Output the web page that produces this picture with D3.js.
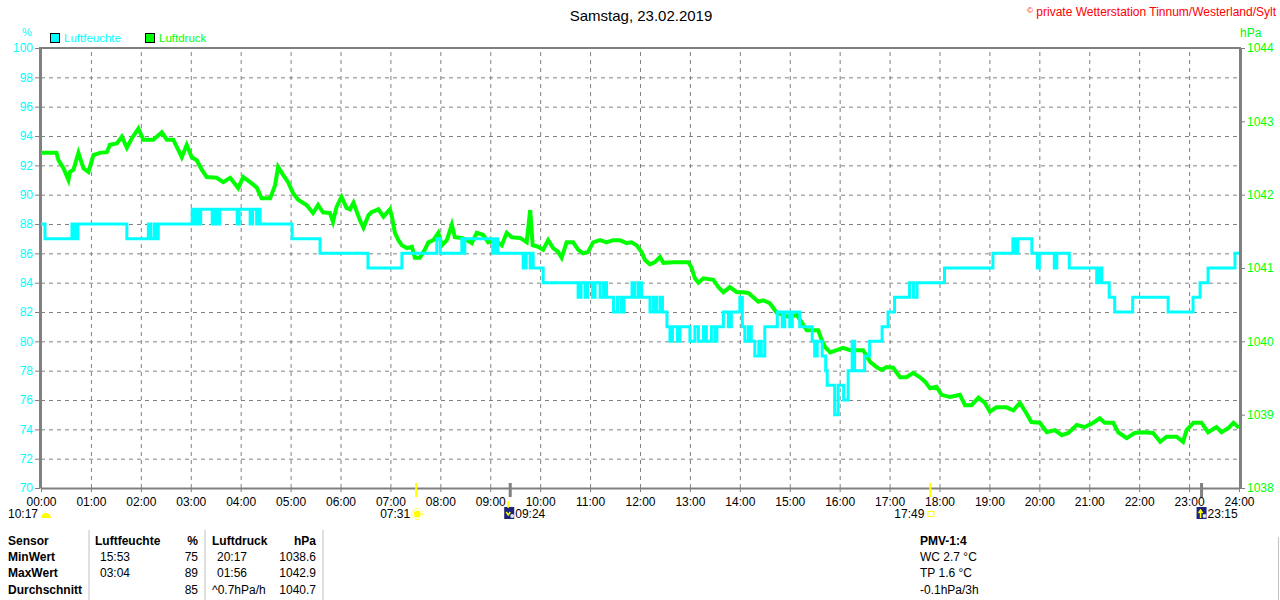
<!DOCTYPE html>
<html>
<head>
<meta charset="utf-8">
<script src="https://cdn.jsdelivr.net/npm/d3@7"></script>
<style>
  body { margin: 0; background: #fff; }
  svg { display: block; font-family: "Liberation Sans", Arial, sans-serif; }
</style>
</head>
<body>
<div id="chart"></div>
<script>
// Achsenwerte
const humTicks = [70, 72, 74, 76, 78, 80, 82, 84, 86, 88, 90, 92, 94, 96, 98, 100];
const presTicks = [1038, 1039, 1040, 1041, 1042, 1043, 1044];
const hourTicks = d3.range(0, 25);

// Luftfeuchte in % (Stufen: [Stunde, Wert])
const luftfeuchte = [
  [0, 88], [0.08, 87], [0.62, 88], [0.65, 87], [0.68, 88], [0.71, 87], [0.74, 88],
  [1.72, 87], [2.15, 88], [2.2, 87], [2.27, 88], [2.3, 87], [2.35, 88],
  [3.03, 89], [3.08, 88], [3.12, 89], [3.17, 88], [3.2, 89], [3.43, 88], [3.48, 89], [3.53, 88], [3.58, 89],
  [3.93, 88], [3.97, 89], [4.19, 88], [4.24, 89], [4.32, 88], [4.36, 89], [4.39, 88],
  [5.03, 87], [5.59, 86], [6.55, 85], [7.23, 86], [7.93, 87], [8.0, 86],
  [8.43, 87], [8.46, 86], [8.49, 87], [9.05, 86], [9.1, 87], [9.15, 86],
  [9.66, 85], [9.72, 86], [9.8, 85], [9.83, 86], [9.86, 85], [10.06, 84],
  [10.76, 83], [10.82, 84], [10.9, 83], [10.95, 84], [11.05, 83], [11.1, 84], [11.2, 83], [11.27, 84], [11.33, 83],
  [11.47, 82], [11.55, 83], [11.62, 82], [11.68, 83], [11.84, 84], [11.9, 83], [11.97, 84], [12.03, 83],
  [12.2, 82], [12.27, 83], [12.33, 82], [12.4, 83], [12.45, 82],
  [12.54, 81], [12.6, 80], [12.65, 81], [12.75, 80], [12.8, 81],
  [13.0, 80], [13.1, 81], [13.17, 80], [13.27, 81], [13.33, 80], [13.43, 81], [13.5, 80], [13.54, 81],
  [13.67, 82], [13.77, 81], [13.83, 82], [14.0, 83], [14.05, 81], [14.1, 80], [14.17, 81], [14.23, 80],
  [14.3, 79], [14.38, 80], [14.43, 79], [14.5, 81], [14.75, 82], [14.85, 81], [14.9, 82], [15.0, 81], [15.05, 82],
  [15.2, 81], [15.45, 80], [15.5, 79], [15.55, 80], [15.65, 79], [15.72, 78], [15.75, 77],
  [15.9, 75], [15.97, 77], [16.08, 76], [16.17, 78], [16.25, 80], [16.3, 78], [16.5, 79], [16.6, 80],
  [16.85, 81], [16.97, 82], [17.1, 83], [17.4, 84], [17.48, 83], [17.55, 84], [18.1, 85],
  [19.07, 86], [19.47, 87], [19.52, 86], [19.57, 87], [19.85, 86], [19.96, 85], [20.0, 86],
  [20.3, 85], [20.35, 86], [20.6, 85], [21.15, 84], [21.2, 85], [21.25, 84], [21.4, 83], [21.51, 82],
  [21.87, 83], [22.58, 82], [23.08, 83], [23.22, 84], [23.38, 85], [23.92, 86], [24, 86]
];

// Luftdruck in hPa ([Stunde, Wert])
const luftdruck = [
  [0, 1042.57], [0.11, 1042.57], [0.31, 1042.57], [0.35, 1042.47], [0.45, 1042.36], [0.55, 1042.20],
  [0.58, 1042.31], [0.65, 1042.34], [0.75, 1042.57], [0.85, 1042.36], [0.95, 1042.31], [1.05, 1042.54],
  [1.18, 1042.57], [1.32, 1042.58], [1.38, 1042.68], [1.52, 1042.70], [1.62, 1042.79], [1.72, 1042.64],
  [1.82, 1042.77], [1.95, 1042.90], [2.05, 1042.75], [2.25, 1042.75], [2.42, 1042.85], [2.52, 1042.75],
  [2.65, 1042.75], [2.75, 1042.61], [2.82, 1042.51], [2.92, 1042.68], [3.02, 1042.51], [3.12, 1042.47],
  [3.22, 1042.34], [3.32, 1042.24], [3.52, 1042.23], [3.65, 1042.17], [3.79, 1042.23], [3.95, 1042.09],
  [4.05, 1042.24], [4.19, 1042.17], [4.32, 1042.10], [4.42, 1041.95], [4.59, 1041.95], [4.69, 1042.13],
  [4.75, 1042.38], [4.85, 1042.27], [4.95, 1042.17], [5.05, 1042.02], [5.15, 1041.93], [5.32, 1041.86],
  [5.45, 1041.75], [5.55, 1041.86], [5.65, 1041.76], [5.79, 1041.75], [5.85, 1041.63], [5.92, 1041.83],
  [6.02, 1041.97], [6.12, 1041.82], [6.19, 1041.80], [6.26, 1041.89], [6.39, 1041.65], [6.46, 1041.55],
  [6.56, 1041.72], [6.62, 1041.76], [6.76, 1041.80], [6.86, 1041.70], [6.99, 1041.80], [7.03, 1041.70],
  [7.09, 1041.48], [7.16, 1041.38], [7.23, 1041.31], [7.33, 1041.27], [7.43, 1041.29], [7.49, 1041.14],
  [7.59, 1041.14], [7.69, 1041.25], [7.76, 1041.35], [7.86, 1041.38], [7.96, 1041.48], [8.03, 1041.31],
  [8.13, 1041.38], [8.23, 1041.59], [8.29, 1041.42], [8.43, 1041.41], [8.53, 1041.38], [8.63, 1041.34],
  [8.73, 1041.48], [8.86, 1041.45], [8.96, 1041.35], [9.09, 1041.38], [9.23, 1041.31], [9.33, 1041.48],
  [9.43, 1041.42], [9.60, 1041.41], [9.73, 1041.35], [9.80, 1041.79], [9.85, 1041.31], [9.96, 1041.29],
  [10.06, 1041.25], [10.16, 1041.38], [10.26, 1041.27], [10.36, 1041.22], [10.43, 1041.14], [10.53, 1041.35],
  [10.66, 1041.35], [10.76, 1041.25], [10.86, 1041.20], [10.96, 1041.22], [11.06, 1041.35], [11.20, 1041.38],
  [11.33, 1041.35], [11.46, 1041.38], [11.60, 1041.38], [11.73, 1041.34], [11.83, 1041.35], [11.93, 1041.31],
  [12.03, 1041.22], [12.10, 1041.11], [12.20, 1041.05], [12.30, 1041.08], [12.40, 1041.15], [12.47, 1041.07],
  [12.67, 1041.08], [12.87, 1041.08], [12.97, 1041.08], [13.03, 1041.01], [13.10, 1040.86], [13.17, 1040.80],
  [13.27, 1040.86], [13.47, 1040.84], [13.57, 1040.74], [13.67, 1040.67], [13.80, 1040.74], [13.94, 1040.67],
  [14.07, 1040.67], [14.17, 1040.66], [14.27, 1040.60], [14.37, 1040.54], [14.47, 1040.56], [14.60, 1040.52],
  [14.74, 1040.39], [14.87, 1040.36], [15.00, 1040.33], [15.14, 1040.36], [15.24, 1040.26], [15.34, 1040.15],
  [15.57, 1040.15], [15.64, 1040.02], [15.71, 1039.92], [15.81, 1039.85], [15.94, 1039.88], [16.07, 1039.91],
  [16.21, 1039.88], [16.47, 1039.88], [16.61, 1039.72], [16.74, 1039.65], [16.84, 1039.61], [16.94, 1039.65],
  [17.07, 1039.64], [17.21, 1039.51], [17.34, 1039.51], [17.47, 1039.57], [17.61, 1039.51], [17.71, 1039.45],
  [17.81, 1039.36], [17.94, 1039.38], [18.04, 1039.27], [18.21, 1039.24], [18.41, 1039.27], [18.51, 1039.13],
  [18.64, 1039.13], [18.78, 1039.23], [18.91, 1039.16], [19.01, 1039.04], [19.14, 1039.10], [19.34, 1039.10],
  [19.48, 1039.06], [19.61, 1039.16], [19.74, 1039.02], [19.84, 1038.90], [20.01, 1038.89], [20.15, 1038.76],
  [20.31, 1038.79], [20.45, 1038.72], [20.58, 1038.75], [20.75, 1038.86], [20.91, 1038.83], [21.08, 1038.89],
  [21.21, 1038.95], [21.31, 1038.89], [21.48, 1038.89], [21.58, 1038.76], [21.75, 1038.68], [21.91, 1038.75],
  [22.08, 1038.76], [22.28, 1038.75], [22.42, 1038.63], [22.55, 1038.70], [22.75, 1038.70], [22.88, 1038.63],
  [22.95, 1038.79], [23.09, 1038.89], [23.25, 1038.89], [23.38, 1038.76], [23.55, 1038.83], [23.65, 1038.76],
  [23.79, 1038.82], [23.89, 1038.89], [24.0, 1038.82]
];

// Sonne / Mond Ereignisse [Stunde, Label, Art]
const ereignisse = [
  [7 + 31 / 60, "07:31", "sunrise"],
  [9 + 24 / 60, "09:24", "moonset"],
  [17 + 49 / 60, "17:49", "sunset"],
  [23 + 15 / 60, "23:15", "moonrise"]
];

// Tabelle unten
const tabelleZeilen = ["Sensor", "MinWert", "MaxWert", "Durchschnitt"];
const feuchteZeit = ["15:53", "03:04", ""];
const feuchteWert = ["75", "89", "85"];
const druckZeit = ["20:17", "01:56", "^0.7hPa/h"];
const druckWert = ["1038.6", "1042.9", "1040.7"];
const pmvZeilen = ["WC 2.7 °C", "TP 1.6 °C", "-0.1hPa/3h"];

const CYAN = "#00ffff", GREEN = "#00ff00", GREY = "#808080";

const svg = d3.select("#chart").append("svg")
  .attr("width", 1280).attr("height", 600);

// Skalen
const x = d3.scaleLinear().domain([0, 24]).range([41, 1239]);
const yH = d3.scaleLinear().domain([70, 100]).range([488, 48]);
const yP = d3.scaleLinear().domain([1038, 1044]).range([488, 48]);

// Titel
svg.append("text").attr("x", 641).attr("y", 21).attr("text-anchor", "middle")
  .attr("font-size", "15px").attr("fill", "#000").text("Samstag, 23.02.2019");
svg.append("text").attr("x", 1276).attr("y", 16).attr("text-anchor", "end")
  .attr("font-size", "12px").attr("fill", "#ff0000")
  .html('<tspan font-size="8px" dy="-3">©</tspan><tspan dy="3"> private Wetterstation Tinnum/Westerland/Sylt</tspan>');

// Legende
const legend = [["Luftfeuchte", CYAN, 50], ["Luftdruck", GREEN, 145]];
legend.forEach(([name, col, lx]) => {
  svg.append("rect").attr("x", lx + 0.5).attr("y", 33.5).attr("width", 9).attr("height", 9)
    .attr("fill", col).attr("stroke", "#000");
  svg.append("text").attr("x", lx + 14).attr("y", 42).attr("font-size", "11.5px")
    .attr("fill", col).text(name);
});
svg.append("text").attr("x", 27).attr("y", 36).attr("text-anchor", "middle")
  .attr("font-size", "11px").attr("fill", CYAN).text("%");
svg.append("text").attr("x", 1240).attr("y", 37)
  .attr("font-size", "12px").attr("fill", GREEN).text("hPa");

// Gitter
const grid = svg.append("g");
grid.append("g").attr("transform", "translate(0,488)")
  .call(d3.axisBottom(x).tickValues(hourTicks.slice(1, 24)).tickSize(-440).tickSizeOuter(0).tickFormat(""))
  .call(g => g.select(".domain").remove());
grid.append("g").attr("transform", "translate(41,0)")
  .call(d3.axisLeft(yH).tickValues(humTicks.slice(1, 15)).tickSize(-1198).tickSizeOuter(0).tickFormat(""))
  .call(g => g.select(".domain").remove());
grid.selectAll("line").attr("stroke", GREY).attr("stroke-dasharray", "4,4");

// Achsen
const axL = svg.append("g").attr("transform", "translate(40,0)")
  .call(d3.axisLeft(yH).tickValues(humTicks).tickSize(5).tickSizeOuter(0).tickPadding(2));
axL.select(".domain").attr("stroke", GREY).attr("stroke-width", 3);
axL.selectAll("line").attr("stroke", GREY);
axL.selectAll("text").attr("fill", CYAN).attr("font-size", "12px").attr("font-family", "Liberation Sans, Arial");

const axR = svg.append("g").attr("transform", "translate(1240,0)")
  .call(d3.axisRight(yP).tickValues(presTicks).tickSize(5).tickSizeOuter(0).tickPadding(2)
    .tickFormat(d3.format("d")));
axR.select(".domain").attr("stroke", GREY).attr("stroke-width", 3);
axR.selectAll("line").attr("stroke", GREY);
axR.selectAll("text").attr("fill", GREEN).attr("font-size", "12px").attr("font-family", "Liberation Sans, Arial");

svg.append("line").attr("x1", 39).attr("x2", 1241).attr("y1", 48).attr("y2", 48)
  .attr("stroke", GREY).attr("stroke-width", 2);

const axB = svg.append("g").attr("transform", "translate(0,488)")
  .call(d3.axisBottom(x).tickValues(hourTicks).tickSize(6).tickSizeOuter(0).tickPadding(3)
    .tickFormat(h => d3.format("02")(h) + ":00"));
axB.select(".domain").attr("stroke", GREY).attr("stroke-width", 2);
axB.selectAll("line").attr("stroke", GREY).attr("stroke-dasharray", "4,4");
axB.selectAll("text").attr("fill", "#000").attr("font-size", "12px").attr("font-family", "Liberation Sans, Arial");

// Linien
svg.append("path").datum(luftdruck)
  .attr("fill", "none").attr("stroke", GREEN).attr("stroke-width", 4)
  .attr("stroke-linejoin", "miter")
  .attr("d", d3.line().x(d => x(d[0])).y(d => yP(d[1])));

svg.append("path").datum(luftfeuchte)
  .attr("fill", "none").attr("stroke", CYAN).attr("stroke-width", 3)
  .attr("d", d3.line().curve(d3.curveStepAfter).x(d => x(d[0])).y(d => yH(d[1])));

// Tageslänge
svg.append("text").attr("x", 38).attr("y", 518).attr("text-anchor", "end")
  .attr("font-size", "12px").text("10:17");
svg.append("path").attr("d", "M41,518 a5,5 0 0 1 10,0 z").attr("fill", "#ffff00");

// Ereignisse an der Zeitachse
ereignisse.forEach(([h, label, art]) => {
  const ex = x(h);
  const sun = art.startsWith("sun");
  svg.append("line").attr("x1", ex).attr("x2", ex).attr("y1", 483).attr("y2", 497)
    .attr("stroke", sun ? "#ffff00" : GREY).attr("stroke-width", sun ? 2 : 3);
  if (sun) {
    svg.append("text").attr("x", ex - 6).attr("y", 518).attr("text-anchor", "end")
      .attr("font-size", "12px").text(label);
    if (art === "sunrise") {
      svg.append("circle").attr("cx", ex + 1).attr("cy", 514).attr("r", 3.5).attr("fill", "#ffff00");
      svg.append("circle").attr("cx", ex + 1).attr("cy", 514).attr("r", 5.5).attr("fill", "none")
        .attr("stroke", "#ffff00").attr("stroke-dasharray", "1.5,1.5");
    } else {
      svg.append("rect").attr("x", ex - 2.5).attr("y", 511.5).attr("width", 6).attr("height", 5)
        .attr("fill", "none").attr("stroke", "#ffff00");
    }
  } else {
    const ix = art === "moonset" ? ex - 6 : ex - 5;
    svg.append("rect").attr("x", ix).attr("y", 507).attr("width", 10).attr("height", 12).attr("fill", "#1a237e");
    svg.append("path").attr("d", `M${ix + 4},${art === "moonset" ? 508 : 518} v-7 M${ix + 2},${art === "moonset" ? 512 : 513} l2,${art === "moonset" ? 3 : -3} l2,${art === "moonset" ? -3 : 3}`)
      .attr("stroke", "#ffff00").attr("stroke-width", 1.5).attr("fill", "none");
    svg.append("circle").attr("cx", ix + 8).attr("cy", 516).attr("r", 2).attr("fill", "#dde");
    svg.append("text").attr("x", ix + 11).attr("y", 518).attr("font-size", "12px").text(label);
  }
});

// Tabelle
const rowY = [545, 561, 577, 594];
const tab = svg.append("g").attr("font-size", "12px").attr("fill", "#000");
tabelleZeilen.forEach((t, i) => {
  tab.append("text").attr("x", 8).attr("y", rowY[i]).attr("font-weight", "bold").text(t);
});
tab.append("text").attr("x", 95).attr("y", rowY[0]).attr("font-weight", "bold").text("Luftfeuchte");
tab.append("text").attr("x", 198).attr("y", rowY[0]).attr("font-weight", "bold").attr("text-anchor", "end").text("%");
tab.append("text").attr("x", 212).attr("y", rowY[0]).attr("font-weight", "bold").text("Luftdruck");
tab.append("text").attr("x", 316).attr("y", rowY[0]).attr("font-weight", "bold").attr("text-anchor", "end").text("hPa");
feuchteZeit.forEach((t, i) => tab.append("text").attr("x", 100).attr("y", rowY[i + 1]).text(t));
feuchteWert.forEach((t, i) => tab.append("text").attr("x", 198).attr("y", rowY[i + 1]).attr("text-anchor", "end").text(t));
druckZeit.forEach((t, i) => tab.append("text").attr("x", i === 2 ? 212 : 217).attr("y", rowY[i + 1]).text(t));
druckWert.forEach((t, i) => tab.append("text").attr("x", 316).attr("y", rowY[i + 1]).attr("text-anchor", "end").text(t));
tab.append("text").attr("x", 920).attr("y", rowY[0]).attr("font-weight", "bold").text("PMV-1:4");
pmvZeilen.forEach((t, i) => tab.append("text").attr("x", 920).attr("y", rowY[i + 1]).text(t));
[89, 205, 323].forEach(sx => {
  svg.append("line").attr("x1", sx).attr("x2", sx).attr("y1", 530).attr("y2", 600)
    .attr("stroke", "#c0c0c0").attr("stroke-width", 1);
});
svg.append("line").attr("x1", 1278.5).attr("x2", 1278.5).attr("y1", 537).attr("y2", 600)
  .attr("stroke", "#c0c0c0");
</script>
</body>
</html>
